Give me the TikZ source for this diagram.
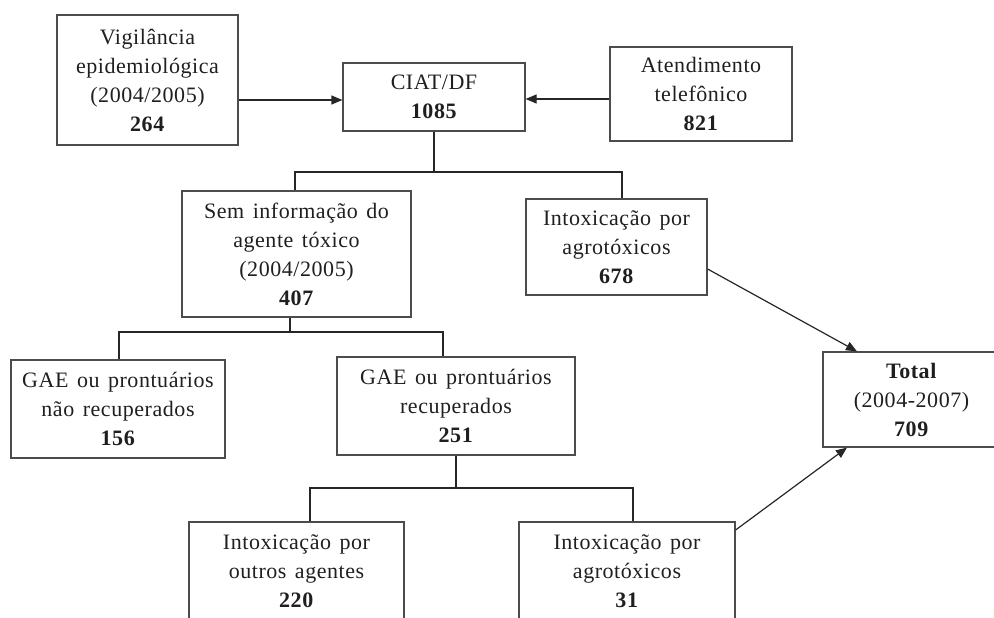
\documentclass[tikz,border=0pt]{standalone}
\usepackage{fontspec}
\setmainfont{Liberation Serif}[LetterSpace=2.5,WordSpace=1.4]
\usetikzlibrary{arrows.meta}
\begin{document}
\begin{tikzpicture}[x=1pt,y=-1pt,
  box/.style={draw=black!70, line width=1.2pt, rectangle, inner sep=0pt, align=center,
    text=black!88, font=\fontsize{22}{29}\selectfont},
  link/.style={draw=black!85, line width=1.2pt},
  arr/.style={link, -{Triangle[length=11pt,width=9pt]}}]
\useasboundingbox (0,0) rectangle (994,618);
\clip (0,0) rectangle (994,618);
\node[box, minimum width=181pt, minimum height=130pt] (vig) at (147.5,80)
  {Vigilância\\epidemiológica\\(2004/2005)\\\textbf{264}};
\node[box, minimum width=182pt, minimum height=68pt] (ciat) at (434,97)
  {CIAT/DF\\\textbf{1085}};
\node[box, minimum width=182pt, minimum height=94pt] (aten) at (701,94)
  {Atendimento\\telefônico\\\textbf{821}};
\node[box, minimum width=229pt, minimum height=126pt] (sem) at (296.5,254)
  {Sem informação do\\agente tóxico\\(2004/2005)\\\textbf{407}};
\node[box, minimum width=181pt, minimum height=96pt] (int) at (616.5,247)
  {Intoxicação por\\agrotóxicos\\\textbf{678}};
\node[box, minimum width=214pt, minimum height=98pt] (gaea) at (118,409)
  {GAE ou prontuários\\não recuperados\\\textbf{156}};
\node[box, minimum width=238pt, minimum height=98pt] (gaeb) at (456,406)
  {GAE ou prontuários\\recuperados\\\textbf{251}};
\node[box, minimum width=215pt, minimum height=98pt] (bota) at (296.5,571)
  {Intoxicação por\\outros agentes\\\textbf{220}};
\node[box, minimum width=216pt, minimum height=98pt] (botb) at (627,571)
  {Intoxicação por\\agrotóxicos\\\textbf{31}};
\node[box, minimum width=177pt, minimum height=95pt] (total) at (911.5,399.5)
  {\textbf{Total}\\(2004-2007)\\\textbf{709}};
% arrows into CIAT
\draw[arr] (vig.east |- 0,100) -- (ciat.west |- 0,100);
\draw[arr] (aten.west |- 0,99) -- (ciat.east |- 0,99);
% CIAT split
\draw[link] (ciat.south) -- (ciat.south |- 0,172);
\draw[link] (sem.north -| 295,0) |- (622,172) -- (int.north -| 622,0);
% Sem informacao split
\draw[link] (sem.south -| 290,0) -- (290,332);
\draw[link] (gaea.north -| 119,0) |- (443,332) -- (gaeb.north -| 443,0);
% GAE recuperados split
\draw[link] (gaeb.south) -- (456,488);
\draw[link] (bota.north -| 310,0) |- (633,488) -- (botb.north -| 633,0);
% arrows into Total
\draw[arr] (int.east |- 0,269) -- (total.north -| 857,0);
\draw[arr] (botb.east |- 0,530) -- (total.south -| 847,0);
\end{tikzpicture}
\end{document}
